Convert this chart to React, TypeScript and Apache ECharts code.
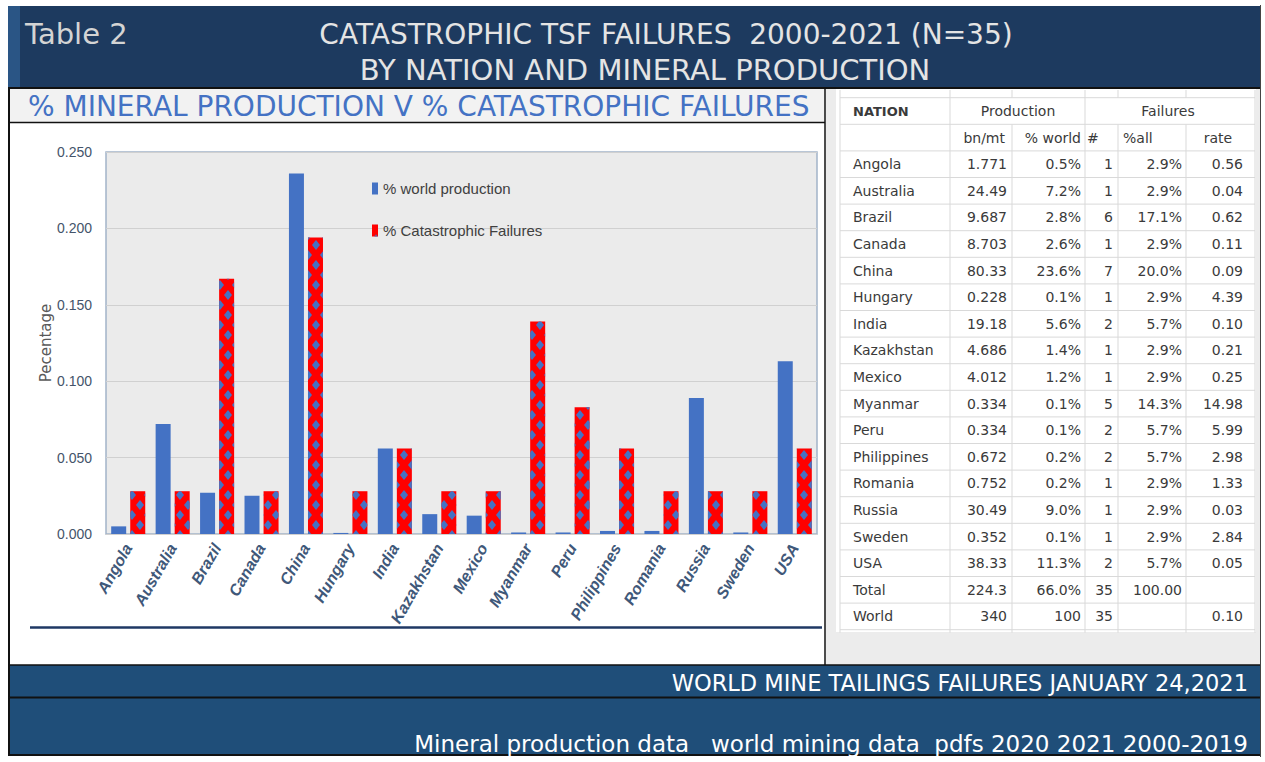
import React, { useEffect, useRef } from "react";
import * as echarts from "echarts";

// ---------- chart data ----------
const countries = ["Angola", "Australia", "Brazil", "Canada", "China", "Hungary", "India", "Kazakhstan", "Mexico", "Myanmar", "Peru", "Philippines", "Romania", "Russia", "Sweden", "USA"];
const worldProductionShare = [0.005, 0.072, 0.027, 0.025, 0.236, 0.0007, 0.056, 0.013, 0.012, 0.001, 0.001, 0.002, 0.002, 0.089, 0.001, 0.113];
const failureShare = [0.028, 0.028, 0.167, 0.028, 0.194, 0.028, 0.056, 0.028, 0.028, 0.139, 0.083, 0.056, 0.028, 0.028, 0.028, 0.056];
const seriesNames = ["% world production", "% Catastrophic Failures"];
const yAxisName = "Pecentage";

// ---------- table data ----------
const tableNations = [...countries, "Total", "World"];
const productionBnMt = ["1.771", "24.49", "9.687", "8.703", "80.33", "0.228", "19.18", "4.686", "4.012", "0.334", "0.334", "0.672", "0.752", "30.49", "0.352", "38.33", "224.3", "340"];
const productionPctWorld = ["0.5%", "7.2%", "2.8%", "2.6%", "23.6%", "0.1%", "5.6%", "1.4%", "1.2%", "0.1%", "0.1%", "0.2%", "0.2%", "9.0%", "0.1%", "11.3%", "66.0%", "100"];
const failureCount = ["1", "1", "6", "1", "7", "1", "2", "1", "1", "5", "2", "2", "1", "1", "1", "2", "35", "35"];
const failurePctAll = ["2.9%", "2.9%", "17.1%", "2.9%", "20.0%", "2.9%", "5.7%", "2.9%", "2.9%", "14.3%", "5.7%", "5.7%", "2.9%", "2.9%", "2.9%", "5.7%", "100.00", ""];
const failureRate = ["0.56", "0.04", "0.62", "0.11", "0.09", "4.39", "0.10", "0.21", "0.25", "14.98", "5.99", "2.98", "1.33", "0.03", "2.84", "0.05", "", "0.10"];

// ---------- texts ----------
const tableLabel = "Table 2";
const titleLine1 = "CATASTROPHIC TSF FAILURES  2000-2021 (N=35)";
const titleLine2 = "BY NATION AND MINERAL PRODUCTION";
const subtitle = "% MINERAL PRODUCTION V % CATASTROPHIC FAILURES";
const footer1 = "WORLD MINE TAILINGS FAILURES JANUARY 24,2021";
const footer2 = "Mineral production data   world mining data  pdfs 2020 2021 2000-2019";

const NAVY = "#1d3a5f";
const FOOT = "#1f4e79";
const BLUE = "#4472c4";
const HEAD_FONT = "'DejaVu Sans', Lato, sans-serif";
const NARROW = "'Liberation Sans Narrow', 'Liberation Sans', Arial, sans-serif";
const TABLE_FONT = "'DejaVu Sans', Verdana, sans-serif";

function buildGraphic() {
  const els: any[] = [];
  const rect = (x: number, y: number, w: number, h: number, fill: string, z = -10) =>
    els.push({ type: "rect", z, silent: true, shape: { x, y, width: w, height: h }, style: { fill } });
  const line = (x1: number, y1: number, x2: number, y2: number, stroke: string, lw: number, z = -5) =>
    els.push({ type: "line", z, silent: true, shape: { x1, y1, x2, y2 }, style: { stroke, lineWidth: lw } });
  const text = (t: string, x: number, y: number, size: number, fill: string, align: string, font = HEAD_FONT, weight = "normal") =>
    els.push({
      type: "text", z: 50, silent: true, x, y,
      style: { text: t, fill, fontSize: size, fontFamily: font, fontWeight: weight, textAlign: align, textVerticalAlign: "middle" },
    });

  // page frame
  rect(7, 5, 1254, 752, "#ffffff", -20);
  // header
  rect(8, 6, 1252, 82, NAVY);
  rect(8, 6, 12, 82, "#2a5585");
  line(8, 88, 1260, 88, "#111111", 2);
  // subtitle band
  rect(9, 89, 816, 33, "#f2f2f2");
  line(9, 122.5, 825, 122.5, "#111111", 1.5);
  // left & middle borders
  line(9, 88, 9, 756, "#111111", 2);
  line(825, 88, 825, 665, "#111111", 1.5);
  line(1260.5, 5, 1260.5, 757, "#444444", 1);
  // chart bottom rule
  line(30, 627.5, 822, 627.5, "#1f3864", 2.5);
  // table panel
  rect(826, 89, 434, 576, "#ececec");
  rect(836, 89, 420, 543, "#ffffff");
  // footer
  rect(8, 665, 1252, 32, FOOT);
  rect(8, 698, 1252, 56, FOOT);
  line(8, 665, 1260, 665, "#111111", 1.5);
  line(8, 697.5, 1260, 697.5, "#111111", 2);
  line(8, 755, 1260, 755, "#111111", 2);

  // header texts
  text(tableLabel, 25, 34, 29, "#d4d4d4", "left");
  text(titleLine1, 666, 34, 28, "#e4e4e4", "center");
  text(titleLine2, 645, 70, 29, "#e4e4e4", "center");
  text(subtitle, 28, 106, 28, BLUE, "left");
  text(footer1, 1248, 683, 22.5, "#ffffff", "right");
  text(footer2, 1248, 744, 23, "#ffffff", "right");

  // table grid
  const colEdges = [840, 950, 1012, 1085, 1118, 1186, 1255];
  const rowH = 26.6;
  const firstCenter = 111;
  const nRows = 2 + tableNations.length;
  const gridTop = firstCenter - rowH / 2;
  const gridBottom = gridTop + rowH * nRows;
  const GRID = "#d9d9d9";
  for (let k = 0; k <= nRows; k++) {
    const y = gridTop + rowH * k;
    line(colEdges[0], y, colEdges[6], y, GRID, 1, -4);
  }
  colEdges.forEach((x, i) => {
    const merged = i === 2 || i === 4 || i === 5;
    if (merged) {
      line(x, 90, x, gridTop, GRID, 1, -4);
      line(x, gridTop + rowH, x, gridBottom + 3, GRID, 1, -4);
    } else {
      line(x, 90, x, gridBottom + 3, GRID, 1, -4);
    }
  });
  const TC = "#3a3a3a";
  const TS = 14;
  // header rows
  text("NATION", 853, firstCenter, 13, TC, "left", TABLE_FONT, "bold");
  text("Production", 1018, firstCenter, TS, TC, "center", TABLE_FONT);
  text("Failures", 1168, firstCenter, TS, TC, "center", TABLE_FONT);
  const r2 = firstCenter + rowH;
  text("bn/mt", 1005, r2, TS, TC, "right", TABLE_FONT);
  text("% world", 1081, r2, TS, TC, "right", TABLE_FONT);
  text("#", 1087, r2, TS, TC, "left", TABLE_FONT);
  text("%all", 1123, r2, TS, TC, "left", TABLE_FONT);
  text("rate", 1218, r2, TS, TC, "center", TABLE_FONT);
  const valueCols = [productionBnMt, productionPctWorld, failureCount, failurePctAll, failureRate];
  const rightX = [1007, 1081, 1113, 1182, 1243];
  tableNations.forEach((nation, i) => {
    const y = firstCenter + rowH * (i + 2);
    text(nation, 853, y, TS, TC, "left", TABLE_FONT);
    valueCols.forEach((col, c) => {
      if (col[i]) text(col[i], rightX[c], y, TS, TC, "right", TABLE_FONT);
    });
  });
  return els;
}

export default function App() {
  const ref = useRef<HTMLDivElement>(null);
  useEffect(() => {
    if (!ref.current) return;
    const chart = echarts.init(ref.current, null, { renderer: "svg" });
    chart.setOption({
      animation: false,
      backgroundColor: "#ffffff",
      graphic: { elements: buildGraphic() },
      grid: {
        left: 106, top: 152, width: 711, height: 382,
        show: true, backgroundColor: "#ebebeb", borderColor: "#a3b4c9", borderWidth: 1.5,
      },
      legend: {
        left: 367, top: 176, orient: "vertical", icon: "rect",
        itemWidth: 6, itemHeight: 12, itemGap: 27,
        textStyle: { fontSize: 15, color: "#404040", fontFamily: NARROW },
        data: seriesNames,
      },
      xAxis: {
        type: "category",
        data: countries,
        axisTick: { show: false },
        axisLine: { lineStyle: { color: "#d0d0d0" } },
        axisLabel: {
          interval: 0, rotate: 60, margin: 11,
          fontStyle: "italic", fontWeight: "bold", fontSize: 16,
          color: "#3f5879", fontFamily: NARROW,
        },
      },
      yAxis: {
        type: "value", min: 0, max: 0.25, interval: 0.05,
        name: yAxisName, nameLocation: "middle", nameGap: 53, nameRotate: 90,
        nameMoveOverlap: false,
        nameTextStyle: { color: "#595959", fontSize: 15, fontFamily: HEAD_FONT },
        axisLine: { show: false },
        axisTick: { show: false },
        axisLabel: {
          formatter: (v: number) => v.toFixed(3), margin: 14,
          color: "#44546a", fontSize: 14, fontFamily: NARROW,
        },
        splitLine: { lineStyle: { color: "#d0d0d0", width: 1 } },
      },
      series: [
        {
          name: seriesNames[0], type: "bar", data: worldProductionShare,
          barWidth: 15, barGap: "27%",
          itemStyle: { color: BLUE },
        },
        {
          name: seriesNames[1], type: "bar", data: failureShare,
          barWidth: 15,
          itemStyle: {
            color: "#ff0000",
            decal: {
              symbol: "diamond", symbolSize: 1, color: BLUE,
              dashArrayX: [[8, 8], [0, 8, 8, 0]], dashArrayY: [10, 0],
            },
          },
        },
      ],
    });
    return () => chart.dispose();
  }, []);
  return <div ref={ref} style={{ position: "absolute", left: 0, top: 0, width: 1265, height: 762 }} />;
}
